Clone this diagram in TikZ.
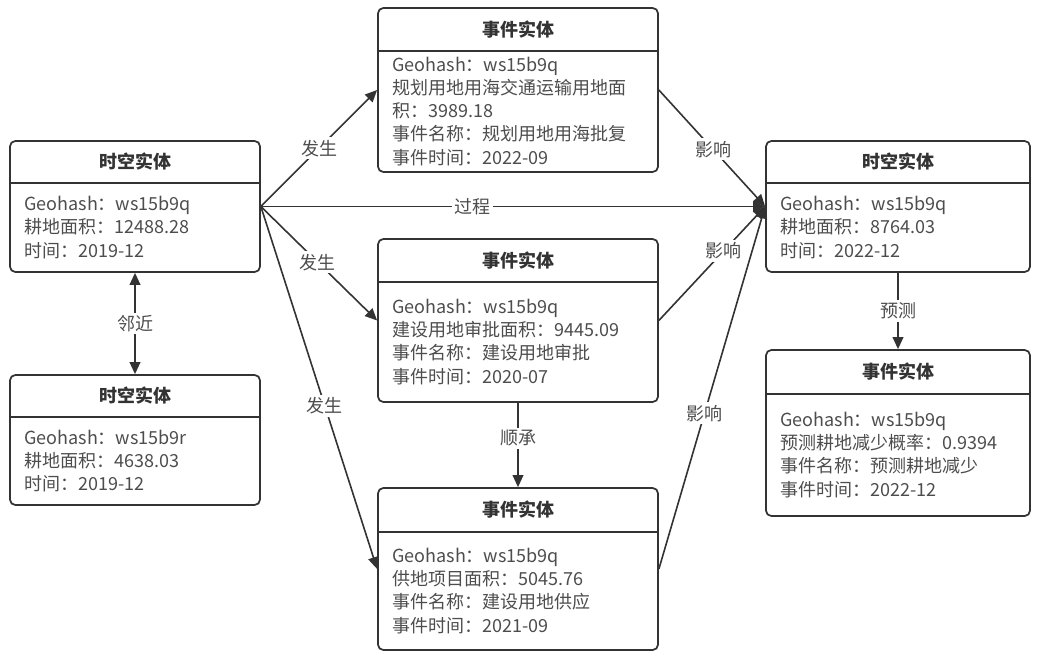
\documentclass[tikz,border=0pt]{standalone}
\usepackage{fontspec}
\setmainfont{Noto Sans CJK SC}
\usetikzlibrary{arrows.meta}
\definecolor{edge}{HTML}{333333}
\definecolor{ink}{HTML}{4D4D4D}
\tikzset{
  entity/.style={draw=edge, line width=1.3pt, rounded corners=4pt, inner sep=0pt},
  head/.style={font=\fontsize{13.5}{17.3}\selectfont\bfseries, text=edge},
  body/.style={anchor=west, align=left, text=ink, inner sep=0pt},
  divider/.style={draw=edge, line width=1.3pt},
  rel/.style={draw=edge, line width=1.2pt},
  lab/.style={fill=white, text=ink, inner sep=2pt},
  >={Triangle[length=9pt,width=8pt]},
}
\begin{document}
\begin{tikzpicture}[x=0.75pt,y=-0.75pt,font=\fontsize{13.5}{17.3}\selectfont]
  \useasboundingbox (0,0) rectangle (1037,652);
  % left column
  \node[entity,minimum width=187.5pt,minimum height=98.25pt] (A) at (135,206.5) {};
  \node[head] (A-h) at (135,162) {时空实体};
  \draw[divider] (A.west |- 0,183) -- (A.east |- 0,183);
  \node[body] (A-b) at (24,227.5) {Geohash：ws15b9q\\耕地面积：12488.28\\时间：2019-12};
  \node[entity,minimum width=187.5pt,minimum height=97.5pt] (B) at (135,440) {};
  \node[head] (B-h) at (135,396) {时空实体};
  \draw[divider] (B.west |- 0,417) -- (B.east |- 0,417);
  \node[body] (B-b) at (24,461) {Geohash：ws15b9r\\耕地面积：4638.03\\时间：2019-12};
  % middle column
  \node[entity,minimum width=210pt,minimum height=123pt] (C) at (518,90) {};
  \node[head] (C-h) at (518,29.5) {事件实体};
  \draw[divider] (C.west |- 0,51) -- (C.east |- 0,51);
  \node[body] (C-b) at (392,111.5) {Geohash：ws15b9q\\规划用地用海交通运输用地面\\积：3989.18\\事件名称：规划用地用海批复\\事件时间：2022-09};
  \node[entity,minimum width=210pt,minimum height=122.25pt] (D) at (518,320.5) {};
  \node[head] (D-h) at (518,260.5) {事件实体};
  \draw[divider] (D.west |- 0,282) -- (D.east |- 0,282);
  \node[body] (D-b) at (392,342) {Geohash：ws15b9q\\建设用地审批面积：9445.09\\事件名称：建设用地审批\\事件时间：2020-07};
  \node[entity,minimum width=210pt,minimum height=121.5pt] (E) at (518,569) {};
  \node[head] (E-h) at (518,510) {事件实体};
  \draw[divider] (E.west |- 0,532) -- (E.east |- 0,532);
  \node[body] (E-b) at (392,591) {Geohash：ws15b9q\\供地项目面积：5045.76\\事件名称：建设用地供应\\事件时间：2021-09};
  % right column
  \node[entity,minimum width=198pt,minimum height=98.25pt] (F) at (898,206.5) {};
  \node[head] (F-h) at (898,162) {时空实体};
  \draw[divider] (F.west |- 0,183) -- (F.east |- 0,183);
  \node[body] (F-b) at (780,227.5) {Geohash：ws15b9q\\耕地面积：8764.03\\时间：2022-12};
  \node[entity,minimum width=198pt,minimum height=124.5pt] (G) at (898,433) {};
  \node[head] (G-h) at (898,372) {事件实体};
  \draw[divider] (G.west |- 0,394) -- (G.east |- 0,394);
  \node[body] (G-b) at (780,455) {Geohash：ws15b9q\\预测耕地减少概率：0.9394\\事件名称：预测耕地减少\\事件时间：2022-12};
  % relations
  \draw[rel,->] (A.east) -- node[lab,pos=0.5] {发生} (C.west);
  \draw[rel,->] (A.east) -- node[lab,pos=0.49] {发生} (D.west);
  \draw[rel,->] (A.east) -- node[lab,pos=0.55] {发生} (E.west);
  \draw[rel,->] (A.east) -- node[lab,pos=0.42] {过程} (F.west);
  \draw[rel,->] (C.east) -- node[lab,pos=0.51] {影响} (F.west);
  \draw[rel,->] (D.east) -- node[lab,pos=0.61] {影响} (F.west);
  \draw[rel,->] (E.east) -- node[lab,pos=0.43] {影响} (F.west);
  \draw[rel,->] (D.south) -- node[lab,pos=0.42] {顺承} (E.north);
  \draw[rel,->] (F.south) -- node[lab] {预测} (G.north);
  \draw[rel,<->] (A.south) -- node[lab] {邻近} (B.north);
\end{tikzpicture}
\end{document}
